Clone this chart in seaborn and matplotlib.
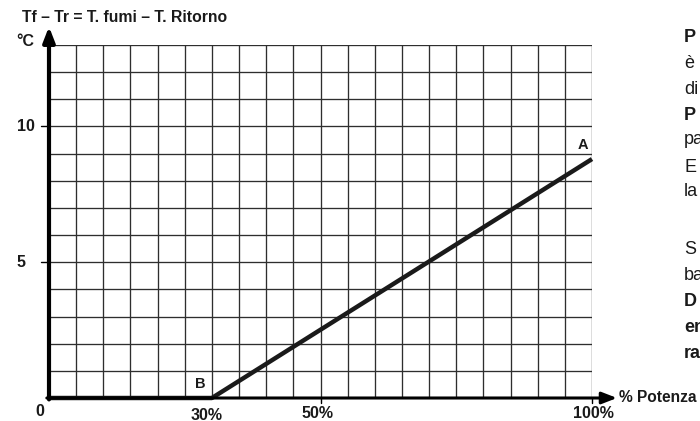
import matplotlib
matplotlib.use("Agg")
import matplotlib.pyplot as plt
import seaborn as sns
import pandas as pd

# Data
power_pct = [0, 30, 100]
delta_t = [0, 0, 8.8]
point_labels = ["B", "A"]
x_tick_labels = ["0", "30%", "50%", "100%"]
y_tick_values = [5, 10]
side_lines = ["P", "è", "di", "P", "pa", "E", "la", "S", "ba", "D", "en", "ra"]
side_bold = [True, False, False, True, False, False, False, False, False, True, True, True]

sns.set_style("white")
plt.rcParams['font.family'] = ['Liberation Sans', 'DejaVu Sans']

W, H = 700, 421
fig = plt.figure(figsize=(7, 4.21), dpi=100)

def fx(px):
    return px / W

def fy(py):
    return 1 - py / H

left, right, top, bottom = 49, 592, 45, 398
ax = fig.add_axes([fx(left), fy(bottom), (right - left) / W, (bottom - top) / H])
ax.set_xlim(0, 100)
ax.set_ylim(0, 13)

# grid
for gx in range(5, 101, 5):
    ax.axvline(gx, color="#2e2e2e", lw=0.95, zorder=1)
for gy in range(1, 14):
    ax.axhline(gy, color="#2e2e2e", lw=0.95, zorder=1)

for s in ax.spines.values():
    s.set_visible(False)
ax.set_xticks([])
ax.set_yticks([])

df = pd.DataFrame({"x": power_pct, "y": delta_t})
sns.lineplot(data=df, x="x", y="y", ax=ax, color="#1a1a1a", lw=3.2,
             zorder=5, clip_on=False, solid_capstyle="butt")

# axes arrows
ax.annotate("", xy=(0, 1.052), xytext=(0, -0.004), xycoords="axes fraction",
            arrowprops=dict(arrowstyle="-|>,head_length=0.9,head_width=0.35",
                            color="black", lw=3, shrinkA=0, shrinkB=0), zorder=6)
ax.annotate("", xy=(1.046, 0), xytext=(-0.004, 0), xycoords="axes fraction",
            arrowprops=dict(arrowstyle="-|>,head_length=0.9,head_width=0.35",
                            color="black", lw=2.2, shrinkA=0, shrinkB=0), zorder=6)

# ticks
for yv in y_tick_values:
    ax.plot([-1.5, 0], [yv, yv], color="black", lw=1, clip_on=False)
for xv in [50, 100]:
    ax.plot([xv, xv], [0, -0.2], color="black", lw=1, clip_on=False)

bold = dict(fontweight="bold", color="#1a1a1a")
fs = 11.5
# y labels
ax.text(-2.6, 10, str(y_tick_values[1]), ha="right", va="center", fontsize=fs, **bold)
ax.text(-4.4, 5, str(y_tick_values[0]), ha="right", va="center", fontsize=fs, **bold)
# x labels
fig.text(fx(40), fy(412), x_tick_labels[0], ha="center", va="center", fontsize=fs, **bold)
fig.text(fx(207), fy(415), x_tick_labels[1], ha="center", va="center", fontsize=fs, **bold)
fig.text(fx(317), fy(413), x_tick_labels[2], ha="center", va="center", fontsize=fs, **bold)
fig.text(fx(593), fy(413), x_tick_labels[3], ha="center", va="center", fontsize=fs, **bold)

fig.text(fx(22), fy(17), "Tf – Tr = T. fumi – T. Ritorno", ha="left", va="center", fontsize=11.3, **bold)
fig.text(fx(16), fy(41), "°C", ha="left", va="center", fontsize=fs, **bold)
fig.text(fx(619), fy(398), "% Potenza", ha="left", va="center", fontsize=11.2, **bold)

# point labels
ax.text(power_pct[1] - 1.2, delta_t[1] + 0.25, point_labels[0], ha="right", va="bottom", fontsize=10.5, **bold)
ax.text(power_pct[2] - 0.6, delta_t[2] + 0.25, point_labels[1], ha="right", va="bottom", fontsize=10.5, **bold)

# side text (cut off at the right edge as in the reference)
ys = [37, 63, 90, 115, 140, 167, 192, 249, 275, 301, 327, 353]
for t, yy, b in zip(side_lines, ys, side_bold):
    fig.text(fx(684), fy(yy), t, ha="left", va="center", fontsize=13,
             fontweight="bold" if b else "normal", color="#1a1a1a")

fig.savefig("out.png", dpi=100)
